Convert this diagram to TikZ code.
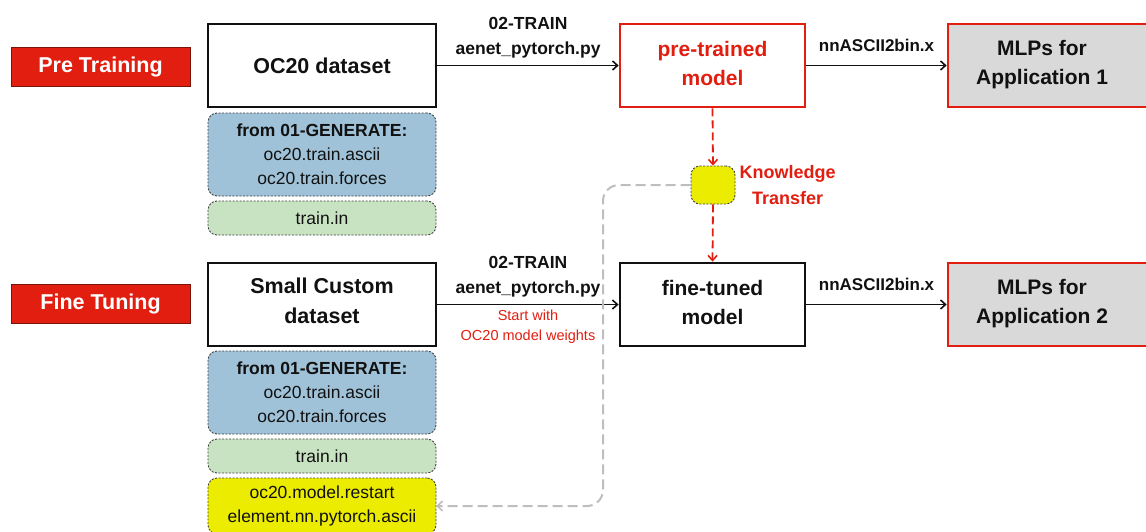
\documentclass[tikz,border=0pt]{standalone}
\usepackage{fontspec}
\setmainfont{Liberation Sans}
\usetikzlibrary{arrows.meta,positioning}
\definecolor{pred}{RGB}{225,30,16}
\definecolor{pdark}{RGB}{120,20,10}
\definecolor{pblue}{RGB}{159,194,216}
\definecolor{pgreen}{RGB}{200,227,194}
\definecolor{pyellow}{RGB}{236,236,0}
\definecolor{pgray}{RGB}{217,217,217}
\definecolor{dashgray}{RGB}{190,190,190}
\definecolor{ink}{RGB}{17,17,17}
\begin{document}
\begin{tikzpicture}[x=1pt,y=-1pt,
  phase/.style={draw=pdark,line width=1pt,fill=pred,text=white,minimum width=179pt,minimum height=39pt,inner sep=0pt,font=\fontsize{21.5}{29}\selectfont\bfseries},
  databox/.style={draw=ink,line width=2.8pt,fill=white,text=ink,minimum width=228pt,minimum height=83pt,inner sep=0pt,align=center,font=\fontsize{21.5}{30}\selectfont\bfseries},
  redbox/.style={draw=pred,line width=2.6pt,fill=white,text=pred,minimum width=185pt,minimum height=83pt,inner sep=0pt,align=center,font=\fontsize{21}{29}\selectfont\bfseries},
  blackbox/.style={draw=ink,line width=2.8pt,fill=white,text=ink,minimum width=185pt,minimum height=83pt,inner sep=0pt,align=center,font=\fontsize{21}{29}\selectfont\bfseries},
  mlpbox/.style={draw=pred,line width=2.6pt,fill=pgray,minimum width=202pt,minimum height=83pt,inner sep=0pt},
  mlptext/.style={text=ink,align=center,inner sep=0pt,font=\fontsize{21}{29}\selectfont\bfseries},
  softbox/.style={draw=black!75,line width=0.9pt,dash pattern=on 2pt off 1.5pt,rounded corners=9pt,minimum width=228pt,inner sep=0pt,align=center,text=ink,font=\fontsize{17.5}{24}\selectfont},
  bluebox/.style={softbox,fill=pblue,minimum height=83pt},
  greenbox/.style={softbox,fill=pgreen,minimum height=34pt},
  yellowbox/.style={softbox,fill=pyellow},
  ktbox/.style={draw=black!75,line width=0.9pt,dash pattern=on 2pt off 1.5pt,rounded corners=9pt,fill=pyellow,minimum width=44pt,minimum height=38pt,inner sep=0pt},
  arr/.style={draw=ink,line width=1.8pt,-{Straight Barb[length=5pt,width=9pt,line width=1.6pt]}},
  redarr/.style={draw=pred,line width=1.8pt,dash pattern=on 8pt off 4pt,-{Straight Barb[length=5pt,width=9pt,line width=1.6pt]}},
  grayarr/.style={draw=dashgray,line width=2pt,dash pattern=on 10pt off 5pt,rounded corners=16pt,-{Straight Barb[length=5pt,width=10pt,line width=1.6pt]}},
  lbl/.style={text=ink,align=center,inner sep=0pt,font=\fontsize{17.5}{25}\selectfont\bfseries},
  redlbl/.style={text=pred,align=center,inner sep=0pt,font=\fontsize{14.5}{20}\selectfont},
  ktlbl/.style={text=pred,align=center,inner sep=4pt,font=\fontsize{18}{26}\selectfont\bfseries}
]
\useasboundingbox (0,0) rectangle (1146,531);

% phase labels
\node[phase] (pre) at (100.5,66.5) {Pre Training};
\node[phase] (fine) at (100.5,304) {Fine Tuning};

% pre-training row
\node[databox] (oc20) at (322,65.5) {OC20 dataset};
\node[bluebox] (blue1) at (322,154.5) {\textbf{from 01-GENERATE:}\\oc20.train.ascii\\oc20.train.forces};
\node[greenbox] (green1) at (322,218) {train.in};
\node[redbox,text depth=4pt] (ptm) at (712.5,65.5) {pre-trained\\model};
\node[mlpbox] (mlp1) at (1049,65.5) {};
\node[mlptext] (mlp1t) at (1042,65) {MLPs for\\Application 1};

% knowledge transfer
\node[ktbox] (kt) at (713,185) {};
\node[ktlbl,anchor=west] (ktl) at (kt.east) {Knowledge\\Transfer};

% fine-tuning row
\node[databox,text depth=8pt] (small) at (322,304.5) {Small Custom\\dataset};
\node[bluebox] (blue2) at (322,392.5) {\textbf{from 01-GENERATE:}\\oc20.train.ascii\\oc20.train.forces};
\node[greenbox] (green2) at (322,456) {train.in};
\node[yellowbox,minimum height=56pt] (yel2) at (322,506) {oc20.model.restart\\element.nn.pytorch.ascii};
\node[blackbox,text depth=4pt] (ftm) at (712.5,304.5) {fine-tuned\\model};
\node[mlpbox] (mlp2) at (1049,304.5) {};
\node[mlptext] (mlp2t) at (1042,304) {MLPs for\\Application 2};

% connectors
\draw[arr] (oc20.east) -- (ptm.west)
  node[lbl,midway,yshift=27.5pt] {02-TRAIN\\aenet\_pytorch.py};
\draw[arr] (ptm.east) -- (mlp1.west)
  node[lbl,midway,yshift=20pt,font=\fontsize{17}{25}\selectfont\bfseries] {nnASCII2bin.x};
\draw[arr] (small.east |- ftm.west) -- (ftm.west)
  node[lbl,midway,yshift=27.5pt] {02-TRAIN\\aenet\_pytorch.py}
  node[redlbl,midway,yshift=-22pt] {Start with\\OC20 model weights};
\draw[arr] (ftm.east) -- (mlp2.west)
  node[lbl,midway,yshift=20pt,font=\fontsize{17}{25}\selectfont\bfseries] {nnASCII2bin.x};

\draw[redarr] (ptm.south) -- (kt.north);
\draw[redarr] (kt.south) -- (ftm.north);

\coordinate (bend) at (603,300);
\draw[grayarr] (kt.west) -| (bend) |- (yel2.east);
\end{tikzpicture}
\end{document}
